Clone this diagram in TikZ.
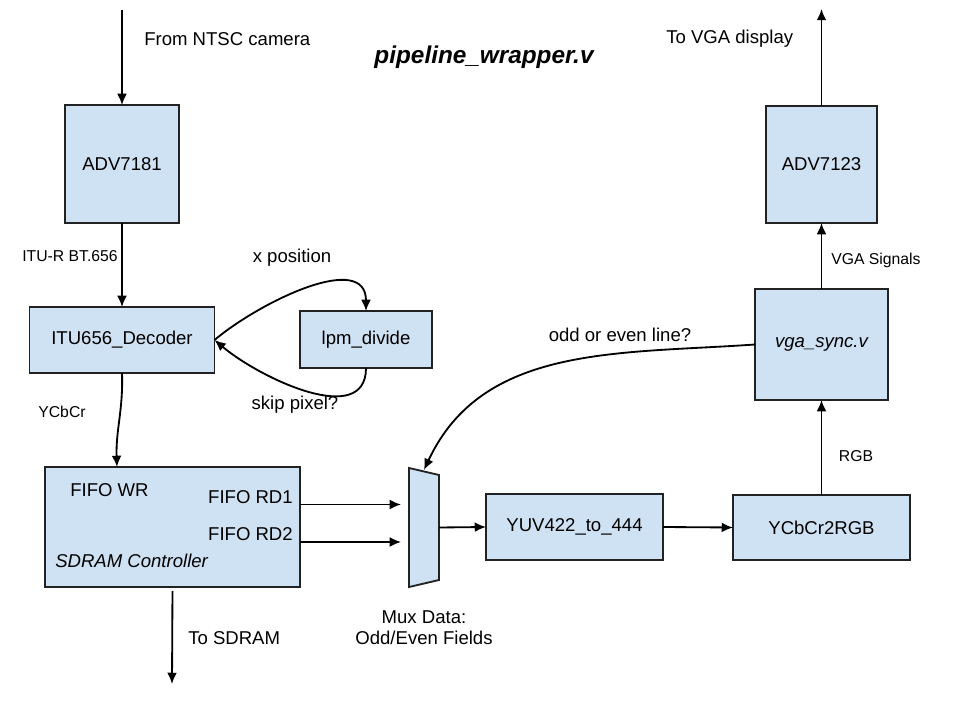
\documentclass[tikz,border=0pt]{standalone}
\usepackage{fontspec}
\setmainfont{Liberation Sans}
\usetikzlibrary{arrows.meta,calc}
\definecolor{boxblue}{HTML}{CFE2F3}
\definecolor{edge}{HTML}{222222}

\begin{document}
\begin{tikzpicture}[x=0.025cm, y=-0.025cm,
    block/.style={draw=edge, fill=boxblue, line width=1.3pt, outer sep=0pt,
        font=\fontsize{13.2}{15}\selectfont},
    lbl/.style={inner sep=0pt, font=\fontsize{13.2}{15}\selectfont},
    small/.style={inner sep=0pt, font=\fontsize{11.2}{13}\selectfont},
    arr/.style={-{Latex[length=8pt,width=7pt]}, line width=1.3pt, draw=black}]
    \useasboundingbox (0,0) rectangle (960,720);

    % Title
    \node[inner sep=0pt, font=\fontsize{17.3}{20}\selectfont\bfseries\itshape] (title) at (484,57) {pipeline\_wrapper.v};

    % Input side
    \coordinate (cam) at (122,10);
    \node[block, minimum width=2.85cm, minimum height=2.95cm] (adv81) at (122,164) {ADV7181};
    \node[block, minimum width=4.625cm, minimum height=1.65cm] (itu) at (122,340) {ITU656\_Decoder};
    \node[block, minimum width=3.3cm, minimum height=1.425cm] (lpm) at (366,339.5) {lpm\_divide};
    \node[block, minimum width=6.375cm, minimum height=3cm] (sdram) at (172.5,527) {};
    \coordinate (sdr) at (172,684);

    % Labels inside the SDRAM box
    \node[lbl, anchor=west] (wr) at (70,490) {FIFO WR};
    \node[lbl, anchor=east] (rd1) at (293,497) {FIFO RD1};
    \node[lbl, anchor=east] (rd2) at (293,534) {FIFO RD2};
    \node[lbl, anchor=west, font=\fontsize{13.2}{15}\selectfont\itshape] (ctrl) at (55,561) {SDRAM Controller};

    % Mux
    \node[minimum width=0.75cm, minimum height=2.975cm, inner sep=0pt, outer sep=0pt] (mux) at (424,527.5) {};
    \draw[draw=edge, fill=boxblue, line width=1.3pt] (mux.north west) -- ($(mux.north east)+(0,7)$)
        -- ($(mux.south east)+(0,-7)$) -- (mux.south west) -- cycle;

    % Output side
    \node[block, minimum width=4.425cm, minimum height=1.65cm] (yuv) at (574.5,527) {YUV422\_to\_444};
    \node[block, minimum width=4.425cm, minimum height=1.625cm] (rgb) at (821.5,527.5) {YCbCr2RGB};
    \node[block, minimum width=3.325cm, minimum height=2.775cm] (vga) at (821.5,344.5) {\itshape vga\_sync.v};
    \node[block, minimum width=2.775cm, minimum height=2.925cm] (adv23) at (821.5,164.5) {ADV7123};
    \coordinate (vgaout) at (821.5,9);

    % Connections
    \draw[arr] (cam) -- (adv81.north);
    \draw[arr] (adv81) -- (itu);
    \draw[arr] (itu.east) to[out=40,in=90] (lpm.north);
    \draw[arr] (lpm.south) to[out=-90,in=-40] (itu.east);
    \draw[arr] (itu.south) to[out=-88,in=92] ($(sdram.north west)+(72,0)$);
    \draw[arr, shorten <=3pt] (sdram.south) -- (sdr);
    \draw[arr, shorten >=5.7pt] (sdram.east |- 0,504.5) -- (mux.west |- 0,504.5);
    \draw[arr, shorten >=5.7pt] (sdram.east |- 0,542) -- (mux.west |- 0,542);
    \draw[arr] (mux.east) -- (yuv.west);
    \draw[arr] (yuv.east) -- (rgb.west);
    \draw[arr] (rgb.north) -- (vga.south);
    \draw[arr] (vga.north) -- (adv23.south);
    \draw[arr] (adv23.north) -- (vgaout);
    \draw[arr] (vga.west) to[out=184,in=65] ($(mux.north)+(0,2)$);

    % Signal labels
    \node[lbl, anchor=west] (camlbl) at (144,39) {From NTSC camera};
    \node[small, anchor=west] (bt656) at (22,256) {ITU-R BT.656};
    \node[lbl] (xpos) at (292,258) {x position};
    \node[lbl] (skip) at (295,405) {skip pixel?};
    \node[small] (ycbcr) at (62,412) {YCbCr};
    \node[lbl, anchor=west] (tosdram) at (188,638) {To SDRAM};
    \node[lbl, align=center] (muxlbl) at (424,628) {Mux Data:\\Odd/Even Fields};
    \node[lbl] (oddeven) at (620,335) {odd or even line?};
    \node[small] (rgblbl) at (856,456) {RGB};
    \node[small, anchor=west] (vgasig) at (831,260) {VGA Signals};
    \node[lbl, anchor=west] (vgadisp) at (666,39) {To VGA display};
\end{tikzpicture}
\end{document}
